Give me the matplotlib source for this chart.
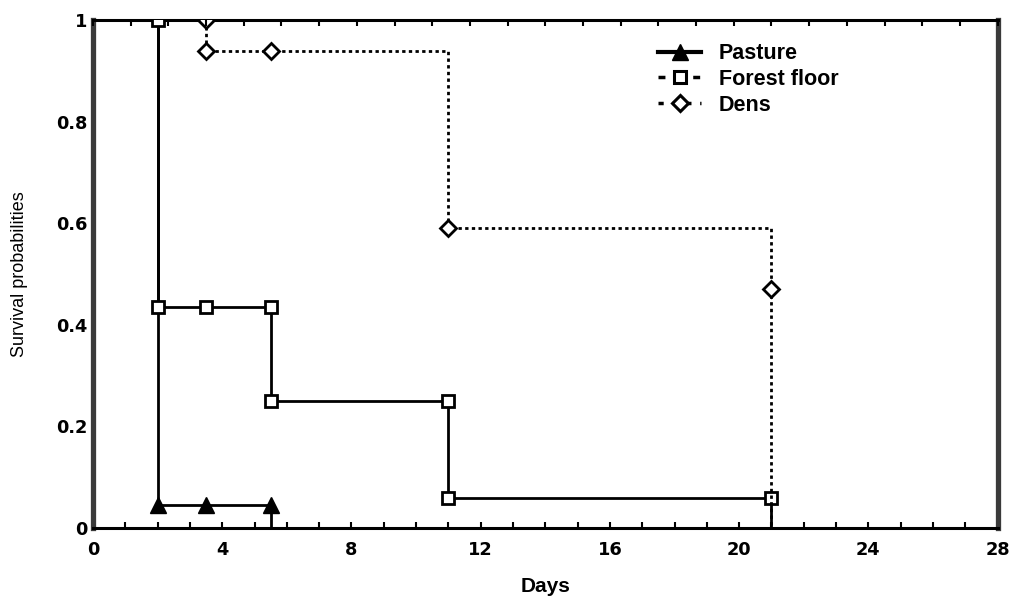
import matplotlib.pyplot as plt
from matplotlib.lines import Line2D
import numpy as np

# Kaplan-Meier step vertices (days, survival probability) for each habitat
pasture_days = [2, 2, 3.5, 5.5, 5.5]
pasture_surv = [1.0, 0.045, 0.045, 0.045, 0.0]

forest_days = [2, 2, 3.5, 5.5, 5.5, 11, 11, 21, 21]
forest_surv = [1.0, 0.435, 0.435, 0.435, 0.25, 0.25, 0.06, 0.06, 0.0]

dens_days = [3.5, 3.5, 5.5, 11, 11, 21, 21, 21]
dens_surv = [1.0, 0.94, 0.94, 0.94, 0.59, 0.59, 0.47, 0.0]

x_ticks = [0, 4, 8, 12, 16, 20, 24, 28]
y_ticks = [0, 0.2, 0.4, 0.6, 0.8, 1]
y_tick_labels = ["0", "0.2", "0.4", "0.6", "0.8", "1"]

plt.rcParams['font.family'] = ['Liberation Sans', 'DejaVu Sans']

fig = plt.figure(figsize=(10.13, 5.96), dpi=100)
ax = fig.add_axes([0.0918, 0.114, 0.893, 0.852])

ax.plot(pasture_days, pasture_surv, color="black", lw=2, marker="^",
        markersize=12, markerfacecolor="black", markeredgecolor="black",
        markevery=[1, 2, 3], zorder=3)
ax.plot(forest_days, forest_surv, color="black", lw=2, marker="s",
        markersize=8, markerfacecolor="white", markeredgecolor="black",
        markeredgewidth=2, markevery=list(range(len(forest_days) - 1)),
        zorder=4)
ax.plot(dens_days, dens_surv, color="black", lw=2, linestyle=(0, (1.2, 1.2)),
        marker="D", markersize=8, markerfacecolor="white",
        markeredgecolor="black", markeredgewidth=2,
        markevery=[0, 1, 2, 4, 6], zorder=4)

ax.set_xlim(0, 28)
ax.set_ylim(0, 1)
ax.set_xticks(x_ticks)
ax.set_xticks(np.arange(0, 29, 1), minor=True)
ax.set_yticks(y_ticks)
ax.set_yticklabels(y_tick_labels)

ax.tick_params(axis="x", which="both", direction="in", length=4, width=1.5,
               labelsize=12.8, pad=9, top=False)
ax.tick_params(axis="y", which="both", length=0, labelsize=12.8, pad=4)
for lbl in ax.get_xticklabels() + ax.get_yticklabels():
    lbl.set_fontweight("bold")
    lbl.set_family("DejaVu Sans")

ax.spines["bottom"].set_linewidth(2.2)
ax.spines["top"].set_linewidth(2.2)
ax.spines["left"].set_linewidth(3.8)
ax.spines["left"].set_color("#3a3a3a")
ax.spines["right"].set_linewidth(3.8)
ax.spines["right"].set_color("#3a3a3a")

# top axis carries its own, finer tick spacing
top = ax.twiny()
top.set_xlim(0, 24)
top.set_xticks(np.arange(0, 25, 1))
top.tick_params(axis="x", direction="in", length=4, width=1.5,
                labeltop=False)
for s in top.spines.values():
    s.set_visible(False)

ax.set_xlabel("Days", fontsize=15, fontweight="bold", labelpad=13)
ax.set_ylabel("Survival probabilities", fontsize=13)
ax.yaxis.set_label_coords(-0.072, 0.5)

handles = [
    Line2D([], [], color="black", lw=3, marker="^", markersize=12),
    Line2D([], [], color="black", lw=2.5, linestyle=(0, (2, 3)), marker="s",
           markersize=8, markerfacecolor="white", markeredgewidth=2.2),
    Line2D([], [], color="black", lw=2.5, linestyle=(0, (1.5, 2.5)),
           marker="D", markersize=8, markerfacecolor="white",
           markeredgewidth=2.2),
]
ax.legend(handles, ["Pasture", "Forest floor", "Dens"], loc="upper left",
          bbox_to_anchor=(0.613, 0.976), frameon=False,
          prop={"size": 15.5, "weight": "bold"}, handlelength=2.0,
          handletextpad=0.8, labelspacing=0.22, borderpad=0)

fig.savefig("out.png", dpi=100)
